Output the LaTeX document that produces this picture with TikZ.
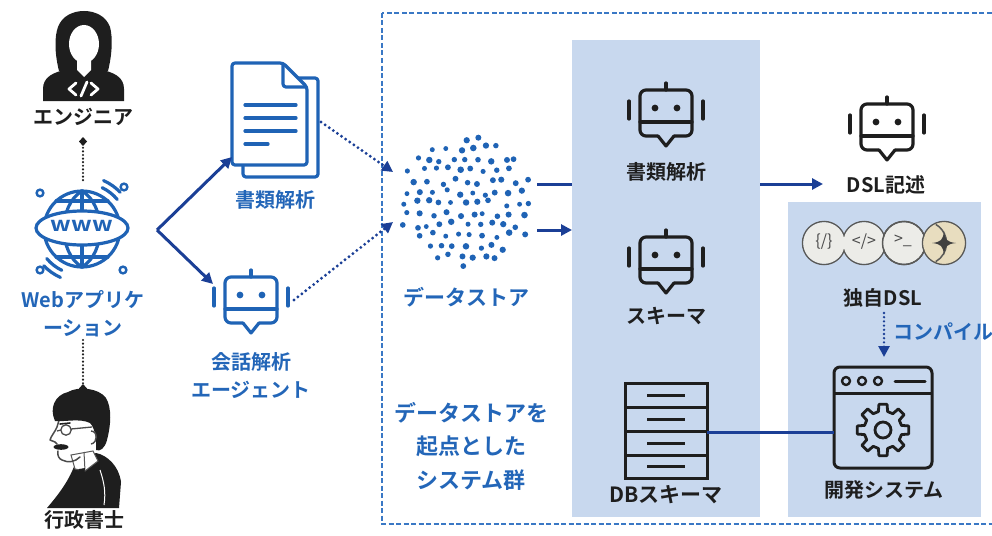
\documentclass[tikz,border=0pt]{standalone}
\usepackage{fontspec}
\setmainfont{Noto Sans CJK JP}[BoldFont={* Bold}]
\usetikzlibrary{arrows.meta,calc}

\definecolor{iconblue}{HTML}{1F63B5}
\definecolor{txtblue}{HTML}{2366B8}
\definecolor{arrowblue}{HTML}{1B3F96}
\definecolor{frameblue}{HTML}{3A78C5}
\definecolor{panel}{HTML}{C8D8EE}
\definecolor{ink}{HTML}{1E1E1E}
\definecolor{pillgray}{HTML}{ECECE8}
\definecolor{pillbeige}{HTML}{E8DDBF}
\definecolor{pilline}{HTML}{5A5A58}

\tikzset{
  diam/.tip={Diamond[length=9pt,width=8pt,line cap=butt]},
  lbl/.style={font=\bfseries\fontsize{20}{28}\selectfont, text=ink, inner sep=0pt, align=center},
  bluelbl/.style={lbl, text=txtblue},
  flow/.style={arrowblue, line width=3pt, -{Triangle[length=11pt,width=11pt]}},
  plainflow/.style={arrowblue, line width=3pt},
  dotflow/.style={arrowblue, line width=3.2pt, line cap=round, dash pattern=on 0pt off 5pt,
    -{Triangle[length=11pt,width=11pt,line cap=butt]}},
  dotlink/.style={ink, line width=2.4pt, line cap=round, dash pattern=on 0pt off 3.6pt},
  iconline/.style={line width=3.2pt, line cap=round, line join=round},
  robot/.pic={
    \draw[rounded corners=6pt] (-8,23) -- (-26,23) -- (-26,-23) -- (26,-23) -- (26,23) -- (8,23);
    \draw (-8,23) -- (0,33) -- (8,23);
    \draw (0,-23) -- (0,-30);
    \draw (-26,9) -- (26,9);
    \fill (-11,-5) circle (3.4) (11,-5) circle (3.4);
    \draw (-37,-12) -- (-37,6) (37,-12) -- (37,6);
  }
}

\begin{document}
\begin{tikzpicture}[x=1pt,y=-1pt]
\useasboundingbox (0,0) rectangle (992,535);

% ---------- system group frame ----------
\draw[frameblue, line width=2.4pt, dash pattern=on 5pt off 2.5pt] (382,13) rectangle (1012,524);

% ---------- anchor points for connectors ----------
\coordinate (engTip) at (83,137);
\coordinate (globeTop) at (83,183);
\coordinate (globeBot) at (83,340);
\coordinate (manTip) at (83,393);
\coordinate (fork) at (157,230);
\coordinate (docIn) at (232,157);
\coordinate (agentIn) at (213,284);
\coordinate (docOut) at (321,122);
\coordinate (agentOut) at (294,300);
\coordinate (storeIn1) at (393,172);
\coordinate (storeIn2) at (393,222);
\coordinate (storeOut1) at (537,184);
\coordinate (storeOut2) at (537,230);
\coordinate (schemaIn) at (572,230);
\coordinate (dslIn) at (823,184);
\coordinate (dslOut) at (884,313);
\coordinate (devIn) at (884,357);

% line from the data store to the DSL writer (runs behind the panel)
\draw[flow] (storeOut1) -- (dslIn);

% ---------- panels ----------
\fill[panel] (572,40) rectangle (760,517);
\fill[panel] (788,202) rectangle (981,517);

% ---------- engineer ----------
\node[minimum width=80pt, minimum height=90pt, inner sep=0pt] (engineer) at (83,56) {};
\fill[ink] (59,71) .. controls (55,55) and (54,38) .. (58,27) .. controls (62,16) and (73,11) .. (84,11)
  .. controls (95,11) and (106,16) .. (110,27) .. controls (113,38) and (112,55) .. (108,71) -- cycle;
\fill[ink] (43,101) -- (43,89) .. controls (43,77) and (53,72) .. (69,69) -- (98,69)
  .. controls (114,72) and (124,77) .. (124,89) -- (124,101) -- cycle;
\fill[white] (84,44) ellipse [x radius=15, y radius=19];
\fill[white] (77,56) -- (91,56) -- (91,70) -- (84,77) -- (77,70) -- cycle;
\draw[white, line width=2.8pt, line cap=round, line join=round]
  (76,83) -- (69,89) -- (76,95) (87,82) -- (81,96) (91,83) -- (98,89) -- (91,95);
\node[lbl] (englbl) at (83,117) {エンジニア};

% ---------- web application globe ----------
\node[circle, minimum size=76pt, inner sep=0pt] (globe) at (82,229) {};
\begin{scope}[iconblue, iconline]
  \draw (82,229) circle (38);
  \draw (82,191) -- (82,267);
  \draw (82,191) .. controls (58,205) and (58,253) .. (82,267);
  \draw (82,191) .. controls (106,205) and (106,253) .. (82,267);
  \draw (56,201) -- (108,201) (56,257) -- (108,257);
  \draw[fill=white] (82,228) ellipse [x radius=46, y radius=17];
  \draw[line width=2.4pt] (40,193) circle (3.4) (124,187) circle (3.4) (40,270) circle (3.4) (123,270) circle (3.4);
  \draw (82,229) ++(-64:46) arc[start angle=-64, end angle=-40, radius=46];
  \draw (82,229) ++(-66:53) arc[start angle=-66, end angle=-44, radius=53];
  \draw (82,229) ++(116:46) arc[start angle=116, end angle=140, radius=46];
  \draw (82,229) ++(114:53) arc[start angle=114, end angle=136, radius=53];
\end{scope}
\node[font=\bfseries\fontsize{20}{20}\selectfont, text=iconblue, xscale=1.2, inner sep=0pt] (www) at (82,226) {www};
\node[bluelbl] (weblbl) at (83,314) {Webアプリケ\\ーション};

% ---------- administrative scrivener portrait ----------
\node[minimum width=75pt, minimum height=115pt, inner sep=0pt] (scrivener) at (84,450) {};
% jacket
\fill[ink] (76,461) .. controls (70,480) and (58,495) .. (47,508) -- (119,508) -- (121,482)
  .. controls (119,466) and (107,455) .. (96,453) -- cycle;
% shirt collar and tie
\fill[white] (71,455) -- (93,451) -- (98,461) -- (85,471) -- (75,469) -- cycle;
\draw[ink!75, line width=1pt] (71,455) -- (93,451) -- (98,461) -- (85,471) -- (75,469) -- cycle;
\draw[ink!75, line width=1pt] (84,452) -- (85,471);
\fill[ink] (79,469) -- (85,468) -- (83,486) -- (76,494) -- cycle;
\draw[white, line width=1pt] (100,470) .. controls (104,482) and (106,492) .. (104,505);
% face profile
\draw[ink!80, line width=1.5pt, line join=round, line cap=round]
  (60,417) -- (57,427) .. controls (55,432) and (51,436) .. (50,440) -- (55,442)
  -- (57,444) (58,451) .. controls (57,455) and (59,459) .. (62,460)
  .. controls (68,463) and (75,462) .. (80,457);
% hair with the back of the head
\fill[ink] (55,421) .. controls (49,408) and (55,395) .. (68,392) .. controls (78,386) and (99,388) .. (106,398)
  .. controls (112,408) and (111,425) .. (107,440) .. controls (105,448) and (100,452) .. (96,450)
  .. controls (97,440) and (95,428) .. (90,423) .. controls (80,418) and (65,422) .. (55,421) -- cycle;
% glasses, ear, eyebrow, moustache
\draw[ink!80, line width=1.3pt] (66,430) circle (5.2) (61,430) -- (57,431) (71,429) -- (92,427);
\draw[ink!80, line width=1.4pt] (91,431) .. controls (98,431) and (98,443) .. (91,444);
\draw[ink, line width=1.6pt, line cap=round] (60,424) -- (70,423);
\fill[ink] (61,447) ellipse [x radius=7.5, y radius=2.8];
\node[lbl] (scrlbl) at (84,520) {行政書士};

\draw[dotlink, diam-] (engTip) -- (globeTop);
\draw[dotlink, -diam] (globeBot) -- (manTip);

% ---------- document analysis ----------
\node[minimum width=86pt, minimum height=114pt, inner sep=0pt] (doc) at (275,120) {};
\begin{scope}[iconblue, iconline]
  \draw[fill=white, rounded corners=3pt] (243,78) rectangle (318,177);
  \draw[fill=white, rounded corners=3pt] (232,63) -- (283,63) -- (307,87) -- (307,165) -- (232,165) -- cycle;
  \draw[rounded corners=3pt] (283,64) -- (283,87) -- (306,87);
  \draw (245,105) -- (296,105) (245,118) -- (296,118) (245,131) -- (296,131) (245,144) -- (268,144);
\end{scope}
\node[bluelbl] (doclbl) at (275,200) {書類解析};

% ---------- conversation agent ----------
\pic[iconblue, iconline] (agent) at (251,300) {robot};
\node[bluelbl] (agentlbl) at (251,376) {会話解析\\エージェント};

\draw[flow] (fork) -- (docIn);
\draw[flow] (fork) -- (agentIn);
\draw[dotflow] (docOut) -- (storeIn1);
\draw[dotflow] (agentOut) -- (storeIn2);

% ---------- data store: jittered hexagonal dot cloud ----------
\coordinate (cloud) at (466,203);
\pgfmathsetseed{23}
\foreach \j in {-7,...,7} {
  \foreach \i in {-7,...,7} {
    \pgfmathsetmacro{\px}{(\i+0.5*mod(abs(\j),2))*12.6 + rand*3.2}
    \pgfmathsetmacro{\py}{\j*10.9 + rand*3.2}
    \pgfmathtruncatemacro{\inside}{(\px*\px+\py*\py) < 4500 ? 1 : 0}
    \pgfmathsetmacro{\ds}{2.4+0.9*rnd}
    \ifnum\inside=1
      \fill[iconblue] ($(cloud)+(\px,\py)$) circle (\ds);
    \fi
  }
}
\node[minimum size=136pt, circle, inner sep=0pt] (store) at (cloud) {};
\node[bluelbl, font=\bfseries\fontsize{21}{28}\selectfont] (storelbl) at (466,297) {データストア};
\draw[flow] (storeOut2) -- (schemaIn);

\node[bluelbl, font=\bfseries\fontsize{22}{33.5}\selectfont] (grouplbl) at (471,446) {データストアを\\起点とした\\システム群};

% ---------- agents in the first panel ----------
\pic[ink, iconline] (robotA) at (666,113) {robot};
\node[lbl] (robotAlbl) at (666,172) {書類解析};
\pic[ink, iconline] (robotB) at (666,260) {robot};
\node[lbl] (robotBlbl) at (666,316) {スキーマ};

% ---------- database schema ----------
\node[minimum width=82pt, minimum height=95pt, inner sep=0pt] (db) at (666,430.5) {};
\begin{scope}[ink, line width=3pt]
  \draw (625,383) rectangle (707,478);
  \draw (625,407) -- (707,407) (625,431) -- (707,431) (625,455) -- (707,455);
  \draw (647,395) -- (685,395) (647,419) -- (685,419) (647,443) -- (685,443) (647,466) -- (685,466);
\end{scope}
\node[lbl, font=\bfseries\fontsize{21}{28}\selectfont] (dblbl) at (666,495) {DBスキーマ};

% ---------- DSL writer ----------
\pic[ink, iconline] (robotC) at (887,127) {robot};
\node[lbl] (dsllbl) at (886,185) {DSL記述};

% ---------- custom DSL pills ----------
\begin{scope}[line width=1.5pt]
  \draw[pilline] (824,243) circle (21.5) (864,243) circle (21.5) (904,243) circle (21.5);
  \fill[pillgray] (824,243) circle (20.7) (864,243) circle (20.7) (904,243) circle (20.7);
  \draw[pilline, fill=pillbeige] (944,243) circle (21.5);
  \draw[pilline] (904,243) circle (21.5);
  \fill[pillbeige] (944,243) circle (20.7);
  \draw[pilline] (925,243) ++(-60:21.5) arc[start angle=-60, end angle=60, radius=21.5];
\end{scope}
\node[font=\fontsize{16}{16}\selectfont, text=ink!80, inner sep=0pt] (pill1) at (824,242) {\{/\}};
\node[font=\fontsize{16}{16}\selectfont, text=ink!80, inner sep=0pt] (pill2) at (864,242) {</>};
\node[font=\fontsize{16}{16}\selectfont, text=ink!80, inner sep=0pt] (pill3) at (903,241) {>\_};
\fill[ink!85] (944,231) .. controls (945,240) and (947,242) .. (956,243) .. controls (947,244) and (945,246) .. (944,255)
  .. controls (943,246) and (941,244) .. (932,243) .. controls (941,242) and (943,240) .. (944,231) -- cycle;
\node[lbl] (ownlbl) at (883,298) {独自DSL};

\draw[dotflow, line width=2.6pt, dash pattern=on 0pt off 4.2pt] (dslOut) -- (devIn);
\node[bluelbl, anchor=west] (compile) at (893,332) {コンパイル};

% ---------- development system ----------
\node[minimum width=98pt, minimum height=101pt, inner sep=0pt] (dev) at (883,417.5) {};
\begin{scope}[ink, line width=3pt, line join=round]
  \draw[rounded corners=6pt] (834,367) rectangle (932,468);
  \draw (834,393) -- (932,393);
  \draw[line width=2.4pt] (846,381) circle (4) (862,381) circle (4) (878,381) circle (4);
  \draw[line cap=round] (895,381) -- (925,381);
  \draw[line width=2.8pt, shift={(883,430)}] (-14:19)
    \foreach \a in {0,45,...,315} { -- (\a-14:19) -- (\a-9:26) -- (\a+9:26) -- (\a+14:19) } -- cycle;
  \draw[line width=2.8pt] (883,430) circle (8);
\end{scope}
\node[lbl] (devlbl) at (884,490) {開発システム};

\draw[plainflow] (db.east |- 0,432) -- (dev.west |- 0,432);

\end{tikzpicture}
\end{document}
